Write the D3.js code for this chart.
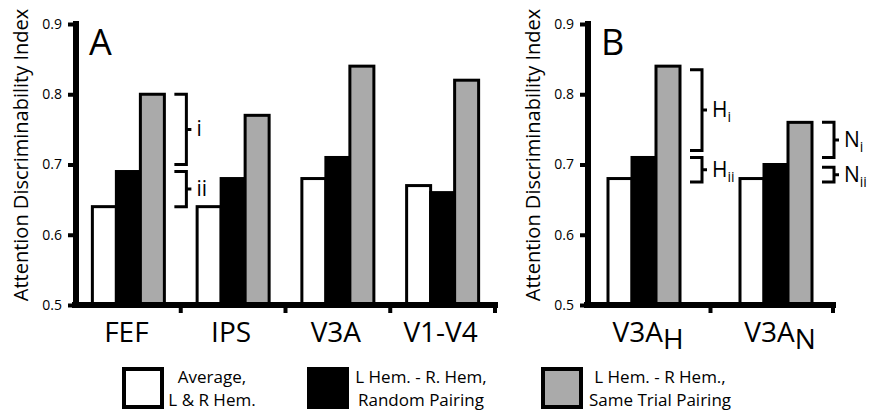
<!DOCTYPE html>
<html>
<head>
<meta charset="utf-8">
<script src="https://cdn.jsdelivr.net/npm/d3@7"></script>
<style>
  body { margin: 0; background: #fff; }
  text { font-family: "Open Sans", sans-serif; fill: #000; }
</style>
</head>
<body>
<div id="chart"></div>
<script>
// data
let series = ["Average, L & R Hem.", "L Hem. - R. Hem, Random Pairing", "L Hem. - R Hem., Same Trial Pairing"];
let colors = ["#ffffff", "#000000", "#aaaaaa"];

let catsA = ["FEF", "IPS", "V3A", "V1-V4"];
let averageA = [0.64, 0.64, 0.68, 0.67];
let randomA = [0.69, 0.68, 0.71, 0.66];
let sameTrialA = [0.80, 0.77, 0.84, 0.82];

let catsB = ["V3A_H", "V3A_N"];
let averageB = [0.68, 0.68];
let randomB = [0.71, 0.70];
let sameTrialB = [0.84, 0.76];

let yTicks = [0.5, 0.6, 0.7, 0.8, 0.9];

// brackets: [category, top value, bottom value, label, subscript]
let bracketsA = [["FEF", 0.80, 0.70, "i", ""], ["FEF", 0.69, 0.64, "ii", ""]];
let bracketsB = [["V3A_H", 0.835, 0.72, "H", "i"], ["V3A_H", 0.71, 0.675, "H", "ii"],
                 ["V3A_N", 0.76, 0.71, "N", "i"], ["V3A_N", 0.696, 0.675, "N", "ii"]];

let width = 875;
let height = 410;

let svg = d3.select("#chart")
    .append("svg")
    .attr("width", width)
    .attr("height", height);

let y = d3.scaleLinear().domain([0.5, 0.9]).range([305, 24]);
let groupWidth = 72;
let x1 = d3.scaleBand().domain(d3.range(3)).range([0, groupWidth]);

function drawPanel(cats, values, brackets, range, barRange, letter) {
    // axis ticks sit on band edges, bars are centred on a slightly different band
    let x = d3.scaleBand().domain(cats).range(range);
    let xb = d3.scaleBand().domain(cats).range(barRange);
    let x0 = range[0];
    let off = (xb.bandwidth() - groupWidth) / 2;
    let g = svg.append("g");

    // bars
    cats.forEach((c, i) => {
        values.forEach((vals, s) => {
            g.append("rect")
                .attr("x", xb(c) + off + x1(s))
                .attr("y", y(vals[i]))
                .attr("width", x1.bandwidth())
                .attr("height", y(0.5) - y(vals[i]))
                .attr("fill", colors[s])
                .attr("stroke", "#000")
                .attr("stroke-width", 3);
        });
    });

    // y axis
    let yAxis = d3.axisLeft(y)
        .tickValues(yTicks)
        .tickFormat(d3.format(".1f"))
        .tickSize(8)
        .tickPadding(6);
    let ya = g.append("g")
        .attr("transform", `translate(${x0}, 0)`)
        .call(yAxis);
    ya.select(".domain").remove();
    ya.selectAll(".tick line").attr("stroke", "#000").attr("stroke-width", 4);
    ya.selectAll(".tick text")
        .style("font-family", "Open Sans")
        .style("font-size", "14px")
        .attr("fill", "#000");

    g.append("line")
        .attr("x1", x0).attr("x2", x0)
        .attr("y1", y(0.9) - 3).attr("y2", y(0.5) + 3)
        .attr("stroke", "#000").attr("stroke-width", 6);

    // x axis
    g.append("line")
        .attr("x1", x0 - 4).attr("x2", range[1] + 3)
        .attr("y1", y(0.5)).attr("y2", y(0.5))
        .attr("stroke", "#000").attr("stroke-width", 6);
    g.selectAll(".xtick")
        .data(cats)
        .enter()
        .append("line")
        .attr("x1", d => x(d) + x.bandwidth())
        .attr("x2", d => x(d) + x.bandwidth())
        .attr("y1", y(0.5))
        .attr("y2", y(0.5) + 8)
        .attr("stroke", "#000").attr("stroke-width", 4);

    // category labels (with subscript)
    cats.forEach(c => {
        let parts = c.split("_");
        let t = g.append("text")
            .attr("x", xb(c) + xb.bandwidth() / 2 + (parts[1] ? 4 : -2))
            .attr("y", 342)
            .attr("text-anchor", "middle")
            .style("font-size", "28px")
            .text(parts[0]);
        if (parts[1]) {
            t.append("tspan").attr("dy", 7).text(parts[1]);
        }
    });

    // y axis title
    g.append("text")
        .attr("transform", "rotate(-90)")
        .attr("x", -155)
        .attr("y", x0 - 48)
        .attr("text-anchor", "middle")
        .style("font-size", "20px")
        .text("Attention Discriminability Index");

    // panel letter
    g.append("text")
        .attr("x", x0 + 13)
        .attr("y", 55)
        .style("font-size", "36px")
        .text(letter);

    // brackets
    brackets.forEach(b => {
        let bx = xb(b[0]) + off + groupWidth + 10;
        let yt = y(b[1]), yb = y(b[2]), ym = (yt + yb) / 2;
        g.append("path")
            .attr("d", `M${bx},${yt}H${bx + 12}V${yb}H${bx}M${bx + 12},${ym}H${bx + 17}`)
            .attr("fill", "none")
            .attr("stroke", "#000")
            .attr("stroke-width", 3);
        let t = g.append("text")
            .attr("x", bx + 22)
            .attr("y", ym + 7)
            .style("font-size", "21px")
            .text(b[3]);
        if (b[4]) {
            t.append("tspan").attr("dy", 5).style("font-size", "14px").text(b[4]);
        }
    });
}

drawPanel(catsA, [averageA, randomA, sameTrialA], bracketsA, [76, 495], [76, 495], "A");
drawPanel(catsB, [averageB, randomB, sameTrialB], bracketsB, [588, 833], [578, 842], "B");

// legend
let legendX = [124, 309, 543];
let legendText = [["Average,", "L & R Hem."], ["L Hem. - R. Hem,", "Random Pairing"], ["L Hem. - R Hem.,", "Same Trial Pairing"]];
let legendCenter = [212, 421, 660];

series.forEach((s, i) => {
    svg.append("rect")
        .attr("x", legendX[i])
        .attr("y", 369)
        .attr("width", 38)
        .attr("height", 38)
        .attr("fill", colors[i])
        .attr("stroke", "#000")
        .attr("stroke-width", 4);
    legendText[i].forEach((line, j) => {
        svg.append("text")
            .attr("x", legendCenter[i])
            .attr("y", 383 + j * 23)
            .attr("text-anchor", "middle")
            .style("font-size", "17px")
            .text(line);
    });
});
</script>
</body>
</html>
